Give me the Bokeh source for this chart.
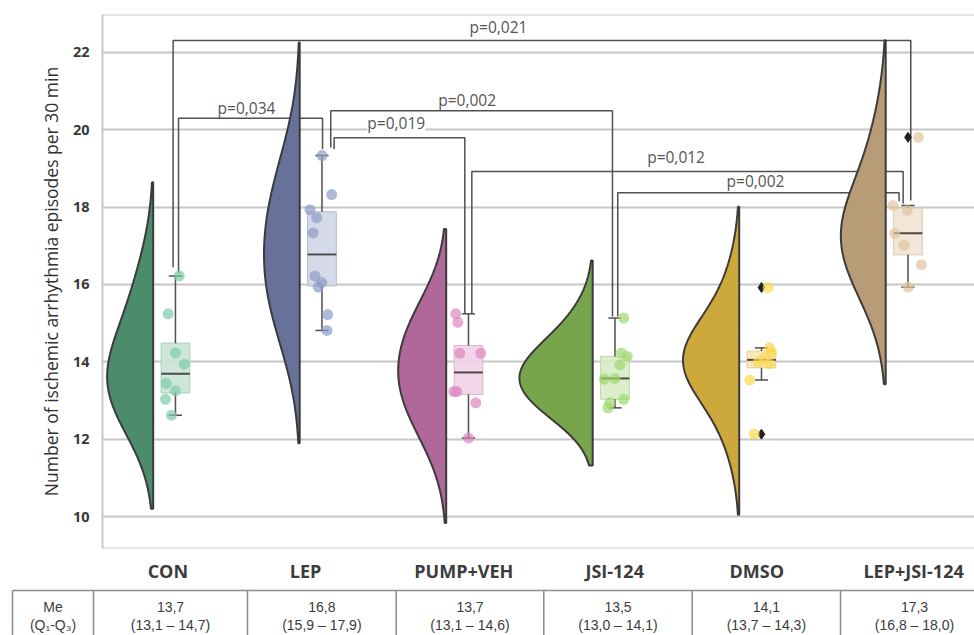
import numpy as np
from bokeh.plotting import figure
from bokeh.models import Range1d, FixedTicker, Span, Label
from bokeh.core.properties import value
from bokeh.embed import file_html
from bokeh.resources import INLINE

# ---------------- data ----------------
groups = ["CON", "LEP", "PUMP+VEH", "JSI-124", "DMSO", "LEP+JSI-124"]
con = [16.22, 15.24, 14.23, 13.94, 13.44, 13.25, 13.03, 12.62]
lep = [19.33, 18.32, 17.93, 17.72, 17.33, 16.22, 16.05, 15.93, 15.22, 14.81]
pump_veh = [15.24, 15.02, 14.22, 14.22, 13.23, 13.23, 12.94, 12.03]
jsi = [15.13, 14.23, 14.14, 13.92, 13.57, 13.55, 13.03, 12.94, 12.81]
dmso = [15.92, 14.36, 14.25, 14.10, 14.00, 13.95, 13.53, 12.13]
lep_jsi = [19.80, 18.04, 17.91, 17.32, 17.02, 16.51, 15.93]
series = [con, lep, pump_veh, jsi, dmso, lep_jsi]

table_me = [13.7, 16.8, 13.7, 13.5, 14.1, 17.3]
table_q1 = [13.1, 15.9, 13.1, 13.0, 13.7, 16.8]
table_q3 = [14.7, 17.9, 14.6, 14.1, 14.3, 18.0]
y_ticks = [10, 12, 14, 16, 18, 20, 22]
y_label = "Number of ischemic arrhythmia episodes per 30 min"
comparisons = [
    ("CON", "LEP+JSI-124", "p=0,021"),
    ("CON", "LEP", "p=0,034"),
    ("LEP", "JSI-124", "p=0,002"),
    ("LEP", "PUMP+VEH", "p=0,019"),
    ("PUMP+VEH", "LEP+JSI-124", "p=0,012"),
    ("JSI-124", "LEP+JSI-124", "p=0,002"),
]

# ---------------- styles / layout ----------------
violin_col = ["#4d8b6d", "#67729a", "#b0689a", "#78a54c", "#cda83a", "#b89c77"]
point_col = ["#7fcaa8", "#8d9bc8", "#dd88c0", "#9ed86c", "#fbd84e", "#e2c59f"]
box_fill = ["#c9e3d6", "#d0d6e6", "#f1d0e5", "#d8ebc6", "#f4e6b6", "#efe3d4"]
box_line = ["#a9cdb9", "#b3bbd2", "#e0b3cf", "#bcd9a2", "#e5d08a", "#dccab4"]
# strip-plot jitter (px, relative to box centre)
jitter_px = [
    [3.7, -7.3, 0, 8.7, -9.3, 0, -10, -4],
    [0, 9.7, -12, -5.3, -8.7, -7, -0.3, -3.7, 5.7, 5],
    [-12.7, -10.7, -8.7, 12.3, -14.7, -11.7, 7.3, 0],
    [8.7, 6.3, 12.3, 5, 0, -10.7, 8.7, -5, -7],
    [6.7, 8.3, 10, 3, -3, 8, -11.7, -7.3],
    [10.4, -15, -0.6, -13.3, -4, 13.4, 0.4],
]
# bracket layout: y of bar, x shift at each end, gap above whisker, text x/y
bracket_layout = [
    (22.30, -0.016, 0.019, 0.22, 0.13, 2.357, 22.64),
    (20.29, 0.021, 0.004, 0.06, 0.17, 0.637, 20.55),
    (20.49, 0.060, -0.017, 0.21, 0.04, 2.143, 20.77),
    (19.79, 0.083, -0.025, 0.17, 0.01, 1.659, 20.17),
    (18.92, 0.023, -0.033, 0.01, 0.05, 3.569, 19.28),
    (18.37, 0.019, -0.061, 0.04, 0.11, 4.111, 18.68),
]
label_dx = [0.10, 0.04, 0.12, 0.15, 0.12, 0.19]

W = 974
FRAME_L = 102
X0, X1 = -0.346, 5.606
Y0, Y1 = 9.176, 22.974
SCALE = (W - FRAME_L) / (X1 - X0)
BOX_DX = 0.152
BOX_HW = 0.098
CAP_HW = 0.045
VIOLIN_MAX = 0.5

p = figure(width=W, height=550, x_range=Range1d(X0, X1), y_range=Range1d(Y0, Y1),
           output_backend="svg", toolbar_location=None, x_axis_location=None,
           min_border_left=FRAME_L, min_border_right=0, min_border_top=14, min_border_bottom=2)
p.outline_line_color = None
p.background_fill_color = "white"
p.xgrid.visible = False
p.ygrid.ticker = FixedTicker(ticks=y_ticks)
p.ygrid.grid_line_color = "#c6c6c6"
p.ygrid.grid_line_width = 2
ax = p.yaxis[0]
ax.ticker = FixedTicker(ticks=y_ticks)
ax.major_tick_line_color = None
ax.minor_tick_line_color = None
ax.axis_line_color = "#cacaca"
ax.axis_line_width = 2
ax.major_label_text_font = "Open Sans"
ax.major_label_text_font_style = "bold"
ax.major_label_text_font_size = "14.5px"
ax.major_label_text_color = "#383838"
ax.major_label_standoff = 7
ax.axis_label = y_label
ax.axis_label_text_font = "Open Sans"
ax.axis_label_text_font_style = "normal"
ax.axis_label_text_font_size = "17.5px"
ax.axis_label_text_color = "#303030"
ax.axis_label_standoff = 7
for loc in (Y0, Y1):
    p.add_layout(Span(location=loc, dimension="width", line_color="#cacaca", line_width=2))

# ---------------- statistics ----------------
stats = []
for vals in series:
    v = np.array(vals)
    q1, med, q3 = np.percentile(v, [25, 50, 75])
    iqr = q3 - q1
    inside = v[(v >= q1 - 1.5 * iqr) & (v <= q3 + 1.5 * iqr)]
    out = v[(v < q1 - 1.5 * iqr) | (v > q3 + 1.5 * iqr)]
    stats.append(dict(q1=q1, med=med, q3=q3, lo=inside.min(), hi=inside.max(), out=out))

# ---------------- brackets (drawn below the violins) ----------------
gi = {g: i for i, g in enumerate(groups)}
bxs, bys = [], []
for (ga, gb, txt), (ytop, dxa, dxb, gapa, gapb, tx, ty) in zip(comparisons, bracket_layout):
    a, b = gi[ga], gi[gb]
    xa = a + BOX_DX + dxa
    xb = b + BOX_DX + dxb
    bxs.append([xa, xa, xb, xb])
    bys.append([stats[a]["hi"] + gapa, ytop, ytop, stats[b]["hi"] + gapb])
p.multi_line(bxs, bys, line_color="#505050", line_width=1.5)

# ---------------- half violins ----------------
kdes = []
for vals in series:
    v = np.array(vals)
    bw = v.std(ddof=1)
    grid = np.linspace(v.min() - 2 * bw, v.max() + 2 * bw, 250)
    dens = np.exp(-0.5 * ((grid[:, None] - v[None, :]) / bw) ** 2).sum(axis=1) / (len(v) * bw * np.sqrt(2 * np.pi))
    kdes.append((grid, dens))
dmax = max(d.max() for _, d in kdes)
for i, (grid, dens) in enumerate(kdes):
    w = dens / dmax * VIOLIN_MAX
    xs = np.concatenate([i - w, [i, i]])
    ys = np.concatenate([grid, [grid[-1], grid[0]]])
    p.patch(xs, ys, fill_color=violin_col[i], line_color="#3b3b3b", line_width=2)

# ---------------- boxes ----------------
for i, s in enumerate(stats):
    c = i + BOX_DX
    p.quad(left=c - BOX_HW, right=c + BOX_HW, bottom=s["q1"], top=s["q3"],
           fill_color=box_fill[i], fill_alpha=0.9, line_color=box_line[i], line_width=1)
    p.segment(x0=[c, c], y0=[s["q3"], s["q1"]], x1=[c, c], y1=[s["hi"], s["lo"]],
              line_color="#4f4f4f", line_width=1.5)
    p.segment(x0=[c - CAP_HW, c - CAP_HW], y0=[s["hi"], s["lo"]],
              x1=[c + CAP_HW, c + CAP_HW], y1=[s["hi"], s["lo"]],
              line_color="#4f4f4f", line_width=1.5)
    p.segment(x0=[c - BOX_HW], y0=[s["med"]], x1=[c + BOX_HW], y1=[s["med"]],
              line_color="#4a4a4a", line_width=2)
    if len(s["out"]):
        p.scatter(x=[c] * len(s["out"]), y=list(s["out"]), marker="diamond", size=10,
                  fill_color="#222222", line_color="#222222")

# ---------------- points ----------------
for i, vals in enumerate(series):
    xs = [i + BOX_DX + j / SCALE for j in jitter_px[i]]
    p.scatter(x=xs, y=vals, size=11, fill_color=point_col[i], fill_alpha=0.7, line_color=None)

# ---------------- p-value labels ----------------
for (ga, gb, txt), (ytop, dxa, dxb, gapa, gapb, tx, ty) in zip(comparisons, bracket_layout):
    kw = {}
    if txt == "p=0,019":
        kw = dict(background_fill_color="white", background_fill_alpha=1.0)
    p.add_layout(Label(x=tx, y=ty, text=txt, text_align="center", text_baseline="middle",
                       text_font="Open Sans", text_font_size="15.5px", text_color="#555555", **kw))

# ---------------- bottom: category names + table (separate root, page px coords) ----------------
H_B = 85
pb = figure(width=W, height=H_B, x_range=Range1d(0, W), y_range=Range1d(H_B, 0),
            output_backend="svg", toolbar_location=None, min_border=0,
            x_axis_location=None, y_axis_location=None)
pb.outline_line_color = None
pb.xgrid.visible = False
pb.ygrid.visible = False


def to_px(xd):
    return FRAME_L + (xd - X0) * SCALE


pb.text(x=[to_px(i + d) for i, d in enumerate(label_dx)], y=[20] * len(groups), text=groups,
        text_align="center", text_baseline="middle", text_font=value("Open Sans"),
        text_font_style="bold", text_font_size="18px", text_color="#3c3c3c")

col_edges = [12, 93, 247, 395.7, 543.3, 691.7, 840, 988]
pb.segment(x0=[col_edges[0]], y0=[40], x1=[W], y1=[40], line_color="#8c8c8c", line_width=1.5)
pb.segment(x0=col_edges[:-1], y0=[40] * 7, x1=col_edges[:-1], y1=[H_B] * 7,
           line_color="#8c8c8c", line_width=1.5)


def fmt(v):
    return f"{v:.1f}".replace(".", ",")


cx = [(col_edges[k] + col_edges[k + 1]) / 2 for k in range(len(col_edges) - 1)]
row1 = ["Me"] + [fmt(m) for m in table_me]
row2 = ["(Q\u2081-Q\u2083)"] + [f"({fmt(a)} \u2013 {fmt(b)})" for a, b in zip(table_q1, table_q3)]
for yy, row in ((56, row1), (74, row2)):
    pb.text(x=cx, y=[yy] * len(row), text=row, text_align="center", text_baseline="middle",
            text_font=value("Liberation Sans"), text_font_size="14px", text_color="#3c3c3c")

open("out.html", "w").write(file_html([p, pb], INLINE))
